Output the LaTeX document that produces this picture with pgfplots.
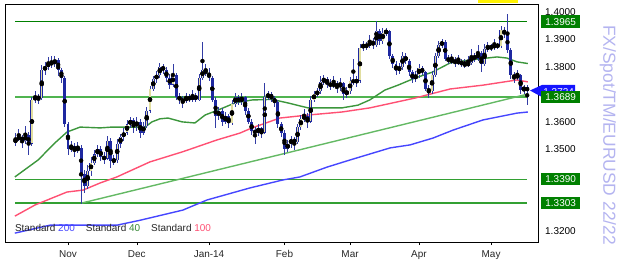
\documentclass[border=0pt]{standalone}
\usepackage{pgfplots}
\pgfplotsset{compat=1.18}
\usepackage{pgfplotstable}
\usepackage{fontspec}
\setmainfont{Liberation Sans}

\definecolor{navyc}{RGB}{30,40,160}
\definecolor{wickc}{RGB}{50,60,165}
\definecolor{upc}{RGB}{225,222,160}
\definecolor{lvltop}{RGB}{0,128,0}
\definecolor{lvlB}{RGB}{80,180,80}
\definecolor{lvlC}{RGB}{50,160,50}
\definecolor{trendc}{RGB}{100,185,100}
\definecolor{smaG}{RGB}{60,150,60}
\definecolor{smaR}{RGB}{255,80,115}
\definecolor{smaB}{RGB}{70,70,255}
\definecolor{boxgreen}{RGB}{0,128,0}
\definecolor{tagblue}{RGB}{20,20,255}
\definecolor{lav}{RGB}{180,180,240}

\pgfplotstableread{
x o h l c
-16 1.3525 1.3560 1.3510 1.3535
-15 1.3535 1.3572 1.3528 1.3545
-14 1.3545 1.3552 1.3505 1.3530
-13 1.3530 1.3585 1.3520 1.3550
-12 1.3550 1.3562 1.3478 1.3520
-11 1.3520 1.3690 1.3512 1.3680
-10 1.3680 1.3710 1.3668 1.3690
-9 1.3690 1.3702 1.3665 1.3685
-8 1.3685 1.3805 1.3680 1.3790
-7 1.3790 1.3818 1.3770 1.3800
-6 1.3800 1.3835 1.3790 1.3815
-5 1.3815 1.3838 1.3795 1.3810
-4 1.3810 1.3840 1.3800 1.3825
-3 1.3825 1.3832 1.3765 1.3790
-2 1.3790 1.3795 1.3740 1.3760
-1 1.3760 1.3768 1.3580 1.3590
0 1.3590 1.3600 1.3480 1.3500
1 1.3500 1.3530 1.3488 1.3510
2 1.3510 1.3522 1.3472 1.3495
3 1.3495 1.3525 1.3485 1.3505
4 1.3505 1.3515 1.3300 1.3410
5 1.3410 1.3425 1.3340 1.3365
6 1.3365 1.3440 1.3355 1.3420
7 1.3420 1.3470 1.3400 1.3450
8 1.3450 1.3495 1.3440 1.3480
9 1.3480 1.3515 1.3470 1.3500
10 1.3500 1.3510 1.3455 1.3470
11 1.3470 1.3490 1.3445 1.3465
12 1.3465 1.3548 1.3460 1.3530
13 1.3530 1.3540 1.3430 1.3455
14 1.3455 1.3478 1.3440 1.3460
15 1.3460 1.3535 1.3450 1.3520
16 1.3520 1.3555 1.3505 1.3545
17 1.3545 1.3575 1.3530 1.3560
18 1.3560 1.3605 1.3550 1.3590
19 1.3590 1.3618 1.3575 1.3605
20 1.3605 1.3612 1.3560 1.3585
21 1.3585 1.3615 1.3565 1.3600
22 1.3600 1.3610 1.3540 1.3560
23 1.3560 1.3598 1.3550 1.3585
24 1.3585 1.3655 1.3578 1.3640
25 1.3640 1.3730 1.3632 1.3720
26 1.3720 1.3768 1.3710 1.3755
27 1.3755 1.3785 1.3742 1.3770
28 1.3770 1.3815 1.3760 1.3800
29 1.3800 1.3812 1.3775 1.3790
30 1.3790 1.3798 1.3745 1.3760
31 1.3760 1.3775 1.3720 1.3735
32 1.3735 1.3812 1.3728 1.3770
33 1.3770 1.3778 1.3680 1.3690
34 1.3690 1.3705 1.3665 1.3680
35 1.3680 1.3695 1.3650 1.3675
36 1.3675 1.3705 1.3668 1.3690
37 1.3690 1.3700 1.3670 1.3680
38 1.3680 1.3715 1.3672 1.3695
39 1.3695 1.3705 1.3672 1.3680
40 1.3680 1.3775 1.3675 1.3760
41 1.3760 1.3890 1.3752 1.3790
42 1.3790 1.3810 1.3765 1.3775
43 1.3775 1.3795 1.3748 1.3760
44 1.3760 1.3768 1.3672 1.3680
45 1.3680 1.3690 1.3578 1.3620
46 1.3620 1.3655 1.3605 1.3640
47 1.3640 1.3648 1.3585 1.3600
48 1.3600 1.3635 1.3590 1.3620
49 1.3620 1.3628 1.3575 1.3595
50 1.3595 1.3680 1.3588 1.3665
51 1.3665 1.3705 1.3655 1.3690
52 1.3690 1.3698 1.3660 1.3670
53 1.3670 1.3705 1.3662 1.3690
54 1.3690 1.3695 1.3625 1.3640
55 1.3640 1.3650 1.3590 1.3600
56 1.3600 1.3610 1.3550 1.3565
57 1.3565 1.3580 1.3520 1.3560
58 1.3560 1.3590 1.3548 1.3575
59 1.3575 1.3582 1.3540 1.3560
60 1.3560 1.3740 1.3555 1.3690
61 1.3690 1.3712 1.3678 1.3700
62 1.3700 1.3708 1.3670 1.3685
63 1.3685 1.3695 1.3655 1.3670
64 1.3670 1.3678 1.3575 1.3590
65 1.3590 1.3600 1.3545 1.3560
66 1.3560 1.3568 1.3477 1.3500
67 1.3500 1.3532 1.3490 1.3520
68 1.3520 1.3548 1.3505 1.3535
69 1.3535 1.3545 1.3495 1.3525
70 1.3525 1.3592 1.3518 1.3580
71 1.3580 1.3625 1.3570 1.3610
72 1.3610 1.3645 1.3598 1.3620
73 1.3620 1.3630 1.3578 1.3600
74 1.3600 1.3692 1.3595 1.3680
75 1.3680 1.3712 1.3670 1.3700
76 1.3700 1.3722 1.3688 1.3710
77 1.3710 1.3765 1.3702 1.3745
78 1.3745 1.3770 1.3735 1.3755
79 1.3755 1.3762 1.3722 1.3740
80 1.3740 1.3755 1.3715 1.3730
81 1.3730 1.3768 1.3722 1.3740
82 1.3740 1.3748 1.3705 1.3725
83 1.3725 1.3760 1.3712 1.3740
84 1.3740 1.3746 1.3680 1.3700
85 1.3700 1.3725 1.3688 1.3710
86 1.3710 1.3762 1.3700 1.3750
87 1.3750 1.3830 1.3735 1.3745
88 1.3745 1.3768 1.3728 1.3750
89 1.3750 1.3882 1.3742 1.3870
90 1.3870 1.3895 1.3858 1.3880
91 1.3880 1.3890 1.3862 1.3875
92 1.3875 1.3915 1.3868 1.3895
93 1.3895 1.3905 1.3865 1.3880
94 1.3880 1.3967 1.3872 1.3930
95 1.3930 1.3938 1.3880 1.3895
96 1.3895 1.3940 1.3885 1.3925
97 1.3925 1.3942 1.3912 1.3930
98 1.3930 1.3935 1.3830 1.3840
99 1.3840 1.3848 1.3795 1.3810
100 1.3810 1.3820 1.3770 1.3785
101 1.3785 1.3815 1.3775 1.3800
102 1.3800 1.3855 1.3790 1.3840
103 1.3840 1.3850 1.3810 1.3820
104 1.3820 1.3828 1.3765 1.3780
105 1.3780 1.3790 1.3740 1.3755
106 1.3755 1.3785 1.3745 1.3770
107 1.3770 1.3810 1.3760 1.3795
108 1.3795 1.3802 1.3770 1.3780
109 1.3780 1.3785 1.3710 1.3720
110 1.3720 1.3735 1.3686 1.3710
111 1.3710 1.3785 1.3702 1.3770
112 1.3770 1.3852 1.3762 1.3840
113 1.3840 1.3895 1.3832 1.3880
114 1.3880 1.3900 1.3870 1.3890
115 1.3890 1.3898 1.3822 1.3830
116 1.3830 1.3845 1.3810 1.3820
117 1.3820 1.3848 1.3812 1.3825
118 1.3825 1.3835 1.3800 1.3815
119 1.3815 1.3845 1.3808 1.3820
120 1.3820 1.3828 1.3798 1.3810
121 1.3810 1.3830 1.3795 1.3805
122 1.3805 1.3840 1.3798 1.3815
123 1.3815 1.3865 1.3805 1.3840
124 1.3840 1.3850 1.3818 1.3830
125 1.3830 1.3880 1.3820 1.3850
126 1.3850 1.3858 1.3780 1.3810
127 1.3810 1.3885 1.3802 1.3865
128 1.3865 1.3890 1.3855 1.3875
129 1.3875 1.3882 1.3858 1.3870
130 1.3870 1.3902 1.3862 1.3880
131 1.3880 1.3888 1.3865 1.3875
132 1.3875 1.3948 1.3868 1.3935
133 1.3935 1.3945 1.3905 1.3920
134 1.3920 1.3993 1.3850 1.3860
135 1.3860 1.3868 1.3755 1.3770
136 1.3770 1.3782 1.3740 1.3760
137 1.3760 1.3790 1.3752 1.3770
138 1.3770 1.3775 1.3700 1.3715
139 1.3715 1.3735 1.3700 1.3725
140 1.3725 1.3732 1.3660 1.3712
}\ohlc

\begin{document}
\begin{tikzpicture}
\useasboundingbox (-5bp,-23bp) rectangle (619bp,242bp);
\begin{axis}[
  scale only axis, width=533bp, height=238bp,
  xmin=-19.2, xmax=143.3, ymin=1.31606, ymax=1.40292,
  clip=false,
  axis line style={line width=0.8bp, black},
  xtick={0,21,43,66,86,107,129},
  xticklabels={Nov,Dec,Jan-14,Feb,Mar,Apr,May},
  xtick pos=left, tick align=outside, major tick length=3bp,
  xtick style={line width=0.6bp, black},
  xticklabel style={font=\fontsize{10}{12}\selectfont, text=black!85, yshift=-2bp},
  ytick={1.32,1.35,1.36,1.38,1.39,1.40},
  ytick pos=right, yticklabel pos=right,
  ytick style={draw=none},
  scaled y ticks=false,
  /pgf/number format/assume math mode=true,
  yticklabel style={font=\fontsize{10}{12}\selectfont, text=black, inner sep=0pt, xshift=4bp,
    /pgf/number format/fixed, /pgf/number format/fixed zerofill, /pgf/number format/precision=4},
]
% level lines
\addplot[draw=lvltop, line width=1.3bp] coordinates {(-16,1.3965) (140,1.3965)};
\addplot[draw=lvlB, line width=1.5bp] coordinates {(-16,1.3689) (140,1.3689)};
\addplot[draw=lvlC, line width=1.2bp] coordinates {(-16,1.3390) (140,1.3390)};
\addplot[draw=lvlC, line width=1.2bp] coordinates {(-16,1.3303) (140,1.3303)};
% trend line
\addplot[draw=trendc, line width=1.4bp] coordinates {(4.3,1.3303) (140,1.3700)};

% SMA 40
\addplot[draw=smaG, line width=1.4bp] coordinates {
(-16.2,1.3398) (-9.1,1.3460) (-4,1.3522) (-0.3,1.3562) (3.7,1.3580) (9.8,1.3577)
(13.4,1.3580) (18.9,1.3580) (23.5,1.3580) (25.6,1.3599) (28,1.3610) (30.5,1.3613)
(34.8,1.3599) (38.7,1.3595) (41.8,1.3624) (45.7,1.3642) (50.9,1.3668) (56.1,1.3679)
(62.2,1.3681) (67.1,1.3668) (73.2,1.3650) (83.5,1.3650) (88.4,1.3660) (92,1.3679)
(96.6,1.3715) (100.6,1.3733) (105.8,1.3759) (111,1.3780) (116.5,1.3814) (122.6,1.3825)
(130.8,1.3836) (133.8,1.3832) (136.9,1.3818) (140.2,1.3812)};
% SMA 100
\addplot[draw=smaR, line width=1.4bp] coordinates {
(-16.2,1.3255) (-10,1.3296) (-0.3,1.3343) (4.6,1.3350) (9.8,1.3376) (14.9,1.3398)
(25,1.3453) (35,1.3490) (45.4,1.3533) (52.4,1.3558) (56.1,1.3577) (64.6,1.3613)
(73.2,1.3624) (83.5,1.3635) (92,1.3650) (105.8,1.3686) (116.5,1.3719) (126.5,1.3733)
(136.9,1.3752) (140.2,1.3745)};
% SMA 200
\addplot[draw=smaB, line width=1.4bp] coordinates {
(-16.2,1.3193) (-5.5,1.3222) (4.6,1.3222) (14.9,1.3222) (22,1.3240) (35,1.3277)
(42.4,1.3314) (55.5,1.3358) (65.5,1.3387) (70.7,1.3398) (79,1.3434) (86,1.3460)
(98.2,1.3504) (104.3,1.3515) (111.3,1.3540) (117.4,1.3569) (126.5,1.3606)
(136.9,1.3631) (140.2,1.3635)};

% wicks
\addplot[only marks, mark=none, error bars/.cd, y dir=both, y explicit, error mark=none,
  error bar style={line width=0.8bp, draw=wickc}]
  table[x=x, y expr={(\thisrow{h}+\thisrow{l})/2}, y error expr={(\thisrow{h}-\thisrow{l})/2}] {\ohlc};
% bodies (outline / down fill)
\addplot[only marks, mark=none, error bars/.cd, y dir=both, y explicit, error mark=none,
  error bar style={line width=2.9bp, draw=navyc}]
  table[x=x, y expr={(\thisrow{o}+\thisrow{c})/2}, y error expr={max(abs(\thisrow{c}-\thisrow{o})/2,0.00007)}] {\ohlc};
% up bodies inner fill
\addplot[only marks, mark=none, restrict expr to domain={\thisrow{c}-\thisrow{o}}{0.00001:1},
  error bars/.cd, y dir=both, y explicit, error mark=none,
  error bar style={line width=1.3bp, draw=upc}]
  table[x=x, y expr={(\thisrow{o}+\thisrow{c})/2}, y error expr={max(abs(\thisrow{c}-\thisrow{o})/2-0.00006,0)}] {\ohlc};

% legend
\node[anchor=west, inner sep=0pt, font=\fontsize{10}{12}\selectfont, text=black!85]
  at (axis cs:-16.2,1.3212)
  {Standard \textcolor{smaB}{200}\hspace{11bp}Standard \textcolor{smaG!90!black}{40}\hspace{11bp}Standard \textcolor{smaR}{100}};

% current price tag
\fill[tagblue] (axis cs:140.85,1.37135) -- (axis cs:144.5,1.37336) -- (axis cs:154.6,1.37336)
  -- (axis cs:154.6,1.36898) -- (axis cs:144.5,1.36898) -- cycle;
\node[text=white, inner sep=0pt, font=\fontsize{10}{12}\selectfont] at (axis cs:149.6,1.3708) {1.3724};

% level boxes
\node[fill=boxgreen, text=white, anchor=west, minimum width=39bp, minimum height=12.5bp,
    inner sep=0pt, font=\fontsize{10}{12}\selectfont] at (axis cs:144.2,1.3965) {1.3965};
\node[fill=boxgreen, text=white, anchor=west, minimum width=39bp, minimum height=12.5bp,
    inner sep=0pt, font=\fontsize{10}{12}\selectfont] at (axis cs:144.2,1.3689) {1.3689};
\node[fill=boxgreen, text=white, anchor=west, minimum width=39bp, minimum height=12.5bp,
    inner sep=0pt, font=\fontsize{10}{12}\selectfont] at (axis cs:144.2,1.3390) {1.3390};
\node[fill=boxgreen, text=white, anchor=west, minimum width=39bp, minimum height=12.5bp,
    inner sep=0pt, font=\fontsize{10}{12}\selectfont] at (axis cs:144.2,1.3303) {1.3303};

% vertical instrument text
\node[rotate=-90, text=lav, inner sep=0pt, font=\fontsize{17.5}{20}\selectfont]
  at (axis cs:164.6,1.3551) {FX/Spot/TM/EURUSD 22/22};

% top yellow marker
\fill[yellow] (axis cs:125,1.4033) rectangle (axis cs:137.2,1.4050);
\end{axis}
\end{tikzpicture}
\end{document}
